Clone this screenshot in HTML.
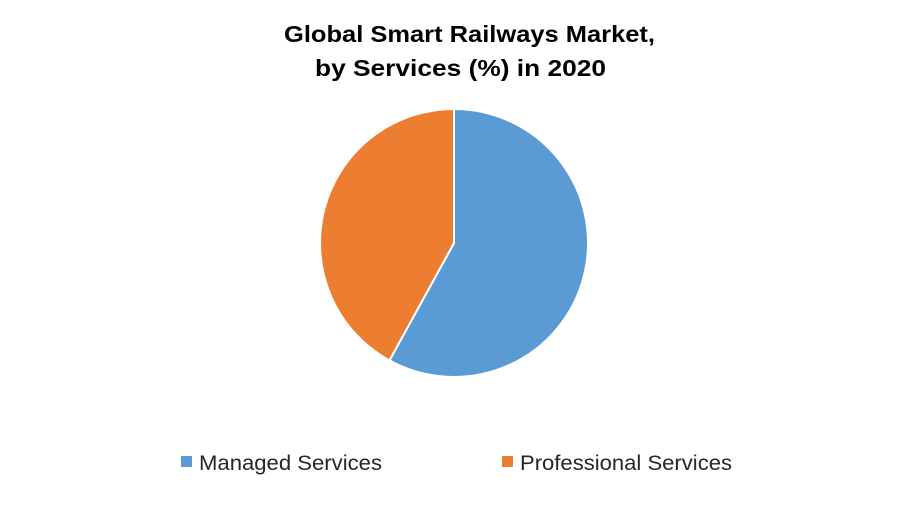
<!DOCTYPE html>
<html><head><meta charset="utf-8"><style>
body{margin:0;background:#fff;}
svg{display:block;font-family:"Liberation Sans",Arial,sans-serif;}
</style></head><body>
<svg id="chart" width="900" height="525">
<rect width="900" height="525" fill="#fff"/>
<text x="284" y="42" textLength="371" lengthAdjust="spacingAndGlyphs" font-size="23" font-weight="bold" fill="#000">Global Smart Railways Market,</text>
<text x="315" y="76" textLength="291" lengthAdjust="spacingAndGlyphs" font-size="23" font-weight="bold" fill="#000">by Services (%) in 2020</text>
<g id="slices"></g>
<g>
<rect x="181" y="456" width="11" height="11" fill="#5B9BD5"/>
<text x="199" y="470" textLength="183" lengthAdjust="spacingAndGlyphs" font-size="21" fill="#262626">Managed Services</text>
<rect x="502" y="456" width="11" height="11" fill="#ED7D31"/>
<text x="520" y="470" textLength="212" lengthAdjust="spacingAndGlyphs" font-size="21" fill="#262626">Professional Services</text>
</g>
</svg>
<script>
const categories = ["Managed Services", "Professional Services"];
const values = [58, 42];
const colors = ["#5B9BD5", "#ED7D31"];
const cx = 454, cy = 243, r = 134;
const g = document.getElementById('slices');
const total = values.reduce((a, b) => a + b, 0);
let a0 = 0;
values.forEach((v, i) => {
  const a1 = a0 + v / total * 2 * Math.PI;
  const x0 = cx + r * Math.sin(a0), y0 = cy - r * Math.cos(a0);
  const x1 = cx + r * Math.sin(a1), y1 = cy - r * Math.cos(a1);
  const large = (a1 - a0) > Math.PI ? 1 : 0;
  const p = document.createElementNS('http://www.w3.org/2000/svg', 'path');
  p.setAttribute('d', `M${cx},${cy} L${x0},${y0} A${r},${r} 0 ${large} 1 ${x1},${y1} Z`);
  p.setAttribute('fill', colors[i]);
  p.setAttribute('stroke', '#fff');
  p.setAttribute('stroke-width', '2');
  
  
  g.appendChild(p);
  a0 = a1;
});
</script>
</body></html>
